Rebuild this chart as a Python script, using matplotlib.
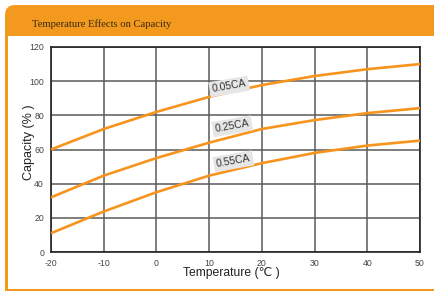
import matplotlib.pyplot as plt
from matplotlib.patches import FancyBboxPatch, Rectangle

temps = [-20, -10, 0, 10, 20, 30, 40, 50]
cap_005 = [60, 72, 82, 90.8, 97.7, 103, 107, 110]
cap_025 = [32, 44.7, 55, 64, 72, 77.2, 81.3, 84.2]
cap_055 = [11, 23.7, 35, 44.7, 52, 58, 62.3, 65.2]
series = [('0.05CA', cap_005), ('0.25CA', cap_025), ('0.55CA', cap_055)]
label_pos = [(13.8, 96.9), (14.4, 73.6), (14.6, 53.1)]

orange = '#f39a1e'
line_orange = '#f7941d'

plt.rcParams['axes.unicode_minus'] = False
fig = plt.figure(figsize=(4.35, 2.92), dpi=100)

# frame drawn in pixel coords (y from bottom), kept behind the axes
frame = [
    FancyBboxPatch((5, 240), 460, 47, boxstyle='round,pad=0,rounding_size=10', fc=orange, ec='none'),
    Rectangle((8, 0), 460, 256, fc='white', ec='none'),
    Rectangle((5, 2), 3, 254, fc=orange, ec='none'),
    Rectangle((5, 1), 460, 2.5, fc=orange, ec='none'),
]
for z, p in enumerate(frame):
    p.set_transform(None)
    p.set_zorder(-10 + z)
    p.set_figure(fig)
    fig.patches.append(p)

fig.text(32 / 435, 1 - 24 / 292, 'Temperature Effects on Capacity', family='Liberation Serif',
         fontsize=7.7, color='#3a2a10', va='center', ha='left')

ax = fig.add_axes([51 / 435, 40 / 292, 369 / 435, 205 / 292])
for (name, vals), (lx, ly) in zip(series, label_pos):
    ax.plot(temps, vals, color=line_orange, lw=1.9, solid_capstyle='butt', zorder=3)
    ax.text(lx, ly, name, rotation=10, ha='center', va='center', fontsize=7.5,
            family='Liberation Sans', color='#333333', zorder=4,
            bbox=dict(boxstyle='square,pad=0.25', fc='#e6e6e6', ec='none'))

ax.set_xlim(-20, 50)
ax.set_ylim(0, 120)
ax.set_xticks(range(-20, 51, 10))
ax.set_yticks(range(0, 121, 20))
ax.grid(True, color='#5a5a5a', lw=1.1)
ax.set_axisbelow(True)
ax.tick_params(length=0, labelsize=6.3, colors='#444444', pad=5)
for lab in ax.get_xticklabels() + ax.get_yticklabels():
    lab.set_family('Liberation Sans')
for s in ax.spines.values():
    s.set_color('#222222')
    s.set_linewidth(1.2)

ax.set_xlabel('Temperature (℃ )', family=['Liberation Sans', 'DejaVu Sans'],
              fontsize=8.7, color='#222222')
ax.xaxis.set_label_coords(0.49, -0.075)
ax.set_ylabel('Capacity (% )', family='Liberation Sans', fontsize=9, color='#222222')
ax.yaxis.set_label_coords(-0.043, 0.534)

fig.savefig('out.png', dpi=100)
